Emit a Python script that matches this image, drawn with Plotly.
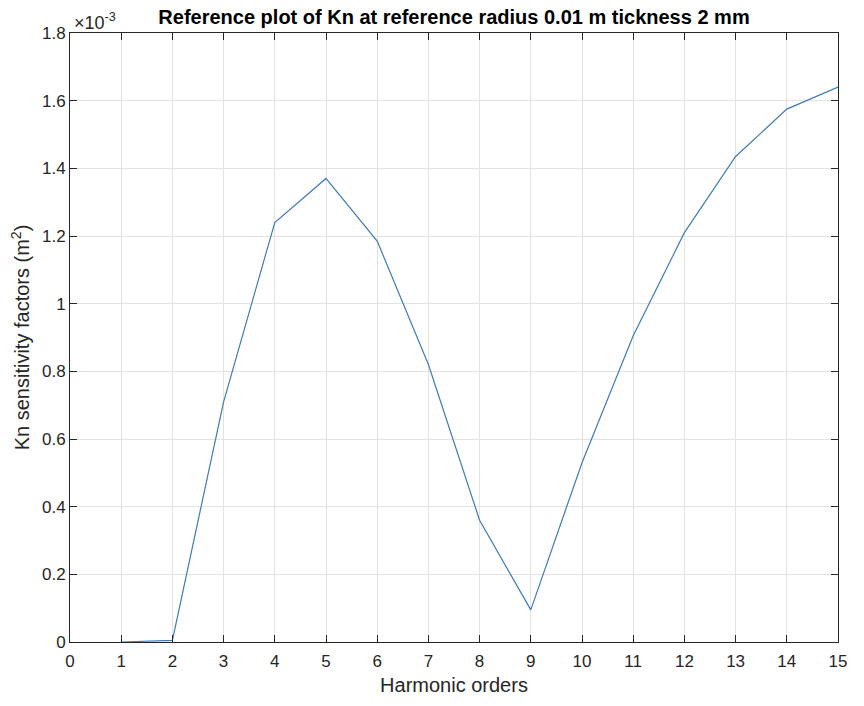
import plotly.graph_objects as go

harmonic_orders = [1, 2, 3, 4, 5, 6, 7, 8, 9, 10, 11, 12, 13, 14, 15]
kn_sensitivity_e3 = [0.0, 0.005, 0.71, 1.24, 1.37, 1.185, 0.82, 0.36, 0.095,
                     0.53, 0.905, 1.21, 1.435, 1.575, 1.64]
x_ticks = list(range(0, 16))
y_ticks = [0, 0.2, 0.4, 0.6, 0.8, 1.0, 1.2, 1.4, 1.6, 1.8]
y_tick_text = ["0", "0.2", "0.4", "0.6", "0.8", "1", "1.2", "1.4", "1.6", "1.8"]

font_family = "Liberation Sans, Arial, sans-serif"

fig = go.Figure()
fig.add_trace(go.Scatter(
    x=harmonic_orders, y=kn_sensitivity_e3, mode="lines",
    line=dict(color="#3f7bb9", width=1.2), showlegend=False,
))

axis_common = dict(
    showline=True, linecolor="#262626", linewidth=1, mirror="allticks",
    ticks="inside", ticklen=7, tickcolor="#262626",
    showgrid=True, gridcolor="#e3e3e3", gridwidth=1, zeroline=False,
    tickfont=dict(family=font_family, size=17, color="#262626"),
)

fig.update_layout(
    width=864, height=706,
    margin=dict(l=70, r=26, t=33, b=64),
    paper_bgcolor="white", plot_bgcolor="white",
    title=dict(text="<b>Reference plot of Kn at reference radius 0.01 m tickness 2 mm</b>",
               x=0.5, xanchor="center", xref="paper", y=1 - 17 / 706, yanchor="middle",
               font=dict(family=font_family, size=20, color="black")),
    xaxis=dict(range=[0, 15], tickvals=x_ticks, ticktext=[str(v) for v in x_ticks],
               ticklabelstandoff=4,
               title=dict(text="Harmonic orders", standoff=7,
                          font=dict(family=font_family, size=20, color="#262626")),
               **axis_common),
    yaxis=dict(range=[0, 1.8], tickvals=y_ticks, ticktext=y_tick_text,
               title=dict(text="Kn sensitivity factors (m<sup>2</sup>)", standoff=6,
                          font=dict(family=font_family, size=20, color="#262626")),
               **axis_common),
)

fig.add_annotation(
    text="×10<sup>-3</sup>", xref="paper", yref="paper", x=0, y=1,
    xanchor="left", yanchor="bottom", showarrow=False, yshift=-2, xshift=2,
    font=dict(family=font_family, size=18, color="#262626"),
)

fig.write_html("out.html")
